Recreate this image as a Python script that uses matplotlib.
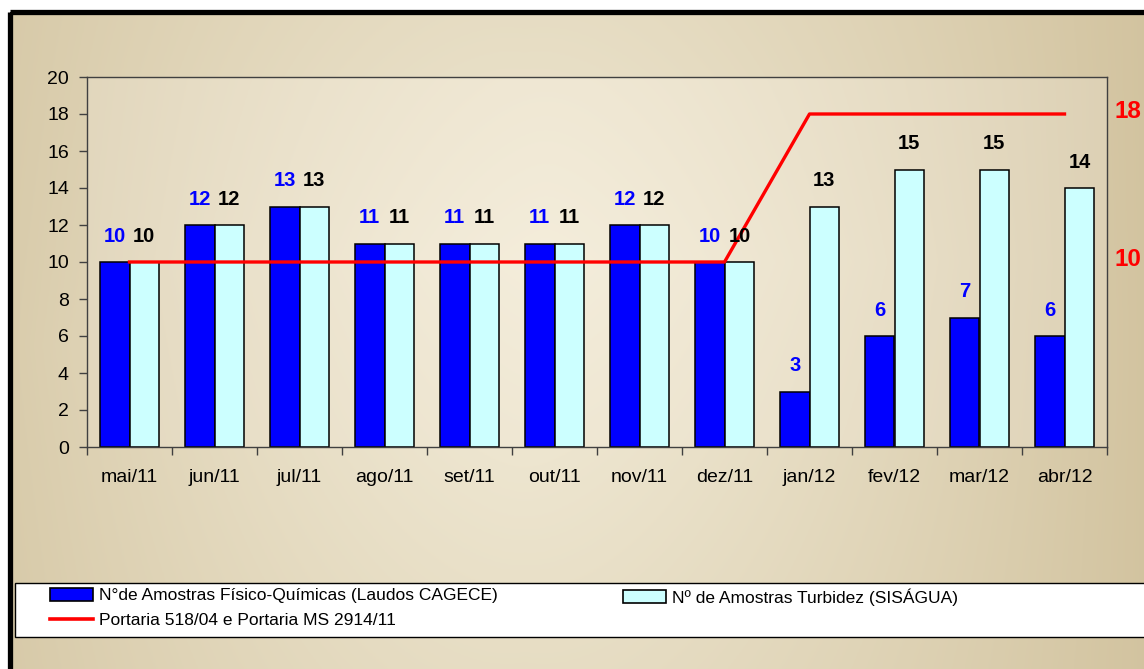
import numpy as np
import matplotlib
matplotlib.use("Agg")
import matplotlib.pyplot as plt
from matplotlib.patches import Rectangle, Patch
from matplotlib.lines import Line2D
import matplotlib.transforms as mtransforms

plt.rcParams['font.family'] = ['Liberation Sans', 'DejaVu Sans']

# dados
meses = ['mai/11', 'jun/11', 'jul/11', 'ago/11', 'set/11', 'out/11',
         'nov/11', 'dez/11', 'jan/12', 'fev/12', 'mar/12', 'abr/12']
fisico_quimicas = [10, 12, 13, 11, 11, 11, 12, 10, 3, 6, 7, 6]
turbidez = [10, 12, 13, 11, 11, 11, 12, 10, 13, 15, 15, 14]
portaria = [10, 10, 10, 10, 10, 10, 10, 10, 18, 18, 18, 18]

lbl_fq = 'N°de Amostras Físico-Químicas (Laudos CAGECE)'
lbl_turb = 'Nº de Amostras Turbidez (SISÁGUA)'
lbl_port = 'Portaria 518/04 e Portaria MS 2914/11'

W, H = 1144, 669
fig = plt.figure(figsize=(W / 100, H / 100), dpi=100)
fig.patch.set_facecolor('white')

# fundo com gradiente
bg = fig.add_axes([0, 0, 1, 1])
bg.set_xlim(0, W)
bg.set_ylim(H, 0)
bg.axis('off')

def gradiente(nx, ny, cx, c_borda, c_centro, vert=0.25):
    xx, yy = np.meshgrid(np.linspace(0, 1, nx), np.linspace(0, 1, ny))
    d = np.abs(xx - cx) / max(cx, 1 - cx)
    d = np.clip(d ** 1.4 + vert * np.abs(yy - 0.5) * 2 * (1 - d), 0, 1)
    c1 = np.array(matplotlib.colors.to_rgb(c_borda))
    c2 = np.array(matplotlib.colors.to_rgb(c_centro))
    return c2 + (c1 - c2) * d[..., None]

bg.imshow(gradiente(400, 200, 0.45, '#d2c39f', '#f1ead6', 0.35),
          extent=(10, W + 10, H + 10, 12), aspect='auto', zorder=0)
bg.add_patch(Rectangle((10, 12), W + 20, H + 20, fill=False,
                       edgecolor='black', lw=3.8, zorder=2))

# caixa da legenda
bg.add_patch(Rectangle((15, 583), W + 20, 54, facecolor='white',
                       edgecolor='black', lw=1.0, zorder=3))

# eixo principal
ax = fig.add_axes([87 / W, 1 - 447 / H, 1020 / W, 370 / H])
ax.set_facecolor('none')
bg.imshow(gradiente(400, 200, 0.45, '#ddd1b5', '#f4eddb', 0.2),
          extent=(87, 1107, 447, 77), aspect='auto', zorder=1)

x = np.arange(len(meses))
w = 0.35
ax.bar(x - w / 2, fisico_quimicas, w, color='#0000ff',
       edgecolor='black', lw=1.1, zorder=2)
ax.bar(x + w / 2, turbidez, w, color='#ccffff',
       edgecolor='black', lw=1.1, zorder=2)
ax.plot(x, portaria, color='#ff0000', lw=2.4, zorder=3)

for xi, v in zip(x - w / 2, fisico_quimicas):
    ax.annotate(str(v), (xi, v), xytext=(0, 18.5), textcoords='offset points',
                ha='center', va='center', color='#0000ff',
                fontsize=14.5, fontweight='bold', zorder=4)
for xi, v in zip(x + w / 2, turbidez):
    ax.annotate(str(v), (xi, v), xytext=(0, 18.5), textcoords='offset points',
                ha='center', va='center', color='black',
                fontsize=14.5, fontweight='bold', zorder=4)

# valores da portaria a direita
trans = mtransforms.blended_transform_factory(ax.transAxes, ax.transData)
for v in sorted(set(portaria)):
    ax.annotate(str(v), (1.0206, v), xycoords=trans, xytext=(0, 1.5),
                textcoords='offset points', ha='center', va='center',
                color='#ff0000', fontsize=17.5, fontweight='bold',
                annotation_clip=False)

ax.set_xlim(-0.5, len(meses) - 0.5)
ax.set_ylim(0, 20)
ax.set_yticks(np.arange(0, 21, 2))
ax.set_xticks(x)
ax.set_xticklabels(meses)
ax.set_xticks(np.arange(-0.5, len(meses), 1), minor=True)
ax.tick_params(axis='x', which='major', length=0, pad=16, labelsize=14)
ax.tick_params(axis='x', which='minor', length=6, color='#404040', width=1)
ax.tick_params(axis='y', length=6, color='#404040', width=1, pad=7,
               labelsize=14)
for s in ax.spines.values():
    s.set_color('#404040')
    s.set_linewidth(1.0)

# legenda
h_fq = Patch(facecolor='#0000ff', edgecolor='black', lw=1.2)
h_turb = Patch(facecolor='#ccffff', edgecolor='black', lw=1.2)
h_port = Line2D([], [], color='#ff0000', lw=2.6)
leg_kw = dict(loc='upper left', frameon=False, fontsize=12.5,
              handlelength=2.5, handleheight=0.75, handletextpad=0.3,
              labelspacing=0.55, borderpad=0, borderaxespad=0)
fig.legend([h_fq, h_port], [lbl_fq, lbl_port],
           bbox_to_anchor=(50 / W, 1 - 588 / H), **leg_kw)
fig.legend([h_turb], [lbl_turb],
           bbox_to_anchor=(623 / W, 1 - 588 / H), **leg_kw)

fig.savefig('out.png', dpi=100)
